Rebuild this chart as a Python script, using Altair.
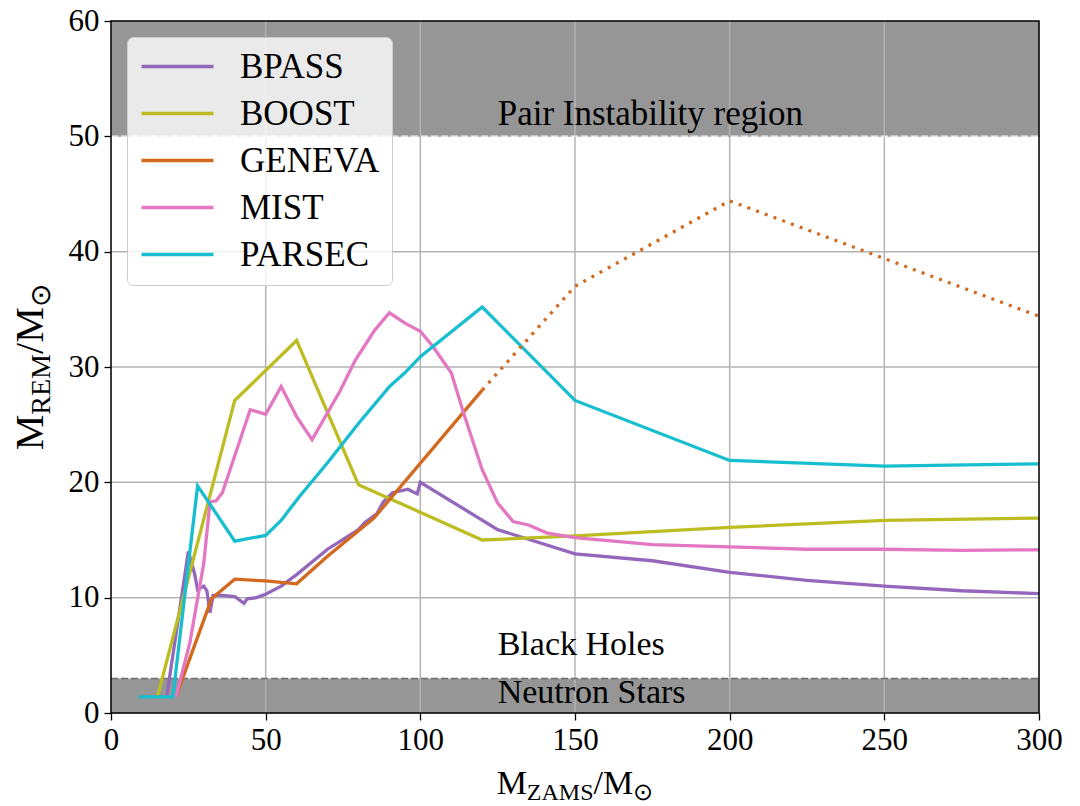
import altair as alt
import pandas as pd

# ---------------- data ----------------
names = ["BPASS", "BOOST", "GENEVA", "MIST", "PARSEC"]
colors = ["#9467bd", "#bcbd22", "#d2691e", "#e377c2", "#17becf"]

bpass_x = [18, 25, 27, 28, 30, 31, 32, 33, 36, 40, 43, 44, 47, 50, 55, 60, 70, 80, 82, 86, 88, 91, 96, 99, 100,
           125, 150, 175, 200, 225, 250, 275, 300]
bpass_y = [1.4, 14.0, 12.1, 10.7, 11.0, 10.6, 8.7, 10.2, 10.2, 10.1, 9.5, 9.9, 10.0, 10.3, 11.0, 12.0, 14.2, 15.9,
           16.5, 17.3, 18.3, 19.1, 19.4, 19.0, 20.0, 15.9, 13.8, 13.2, 12.2, 11.5, 11.0, 10.6, 10.35]

boost_x = [15, 40, 60, 80, 120, 150, 200, 250, 300]
boost_y = [1.4, 27.1, 32.3, 19.8, 15.0, 15.35, 16.1, 16.7, 16.9]

geneva_x = [21, 24.5, 32.5, 40, 50, 60, 70, 85, 120]
geneva_y = [1.4, 4.0, 9.9, 11.6, 11.45, 11.2, 13.6, 16.9, 28.0]
geneva_ext_x = [120, 150, 200, 250, 300]
geneva_ext_y = [28.0, 37.0, 44.4, 39.4, 34.4]

mist_x = [21, 25.5, 30, 32, 34, 36, 45, 50, 55, 60, 65, 74, 79, 85, 90, 95, 100, 104, 110, 114, 120, 125, 130,
          135, 141, 150, 175, 200, 225, 250, 275, 300]
mist_y = [1.4, 6.1, 13.0, 18.3, 18.4, 19.1, 26.3, 25.9, 28.3, 25.7, 23.7, 27.9, 30.6, 33.1, 34.7, 33.8, 33.1,
          31.8, 29.5, 26.0, 21.1, 18.2, 16.6, 16.3, 15.6, 15.2, 14.6, 14.4, 14.2, 14.2, 14.1, 14.15]

parsec_x = [9, 20, 28, 40, 50, 55, 61, 70, 80, 90, 95, 100, 120, 150, 200, 250, 300]
parsec_y = [1.4, 1.4, 19.7, 14.9, 15.4, 16.7, 18.8, 21.7, 25.1, 28.3, 29.5, 30.9, 35.2, 27.1, 21.9, 21.4, 21.6]

x_ticks = [0, 50, 100, 150, 200, 250, 300]
y_ticks = [0, 10, 20, 30, 40, 50, 60]

bands_lo = [0, 50]
bands_hi = [3, 60]
boundaries = [3, 50]
boundary_colors = ["#6e6e6e", "#e8e8e8"]

annotations = ["Pair Instability region", "Black Holes", "Neutron Stars"]
annot_x = [125, 125, 125]
annot_y = [51, 5, 0.9]
annot_size = [35, 34, 34]

# ---------------- layout ----------------
W, H = 928, 692
FONT = "Liberation Serif"
TICK_FS = 31

series = {
    "BPASS": (bpass_x, bpass_y),
    "BOOST": (boost_x, boost_y),
    "GENEVA": (geneva_x, geneva_y),
    "MIST": (mist_x, mist_y),
    "PARSEC": (parsec_x, parsec_y),
}
rows = []
for n in names:
    xs, ys = series[n]
    for i, (a, b) in enumerate(zip(xs, ys)):
        rows.append({"model": n, "m": a, "r": b, "i": i})
lines_df = pd.DataFrame(rows)
ext_df = pd.DataFrame({"model": "GENEVA", "m": geneva_ext_x, "r": geneva_ext_y})

xscale = alt.Scale(domain=[0, 300], nice=False, zero=False)
yscale = alt.Scale(domain=[0, 60], nice=False, zero=False)
cscale = alt.Scale(domain=names, range=colors)

xaxis = alt.Axis(values=x_ticks, grid=False, domain=False, tickColor="black", tickSize=7, tickWidth=1.3,
                 labelFont=FONT, labelFontSize=TICK_FS, labelColor="black", labelPadding=5, title=None,
                 labelFlush=False)
yaxis = alt.Axis(values=y_ticks, grid=False, domain=False, tickColor="black", tickSize=7, tickWidth=1.3,
                 labelFont=FONT, labelFontSize=TICK_FS, labelColor="black", labelPadding=5, title=None,
                 labelFlush=False)

bands = alt.Chart(pd.DataFrame({"lo": bands_lo, "hi": bands_hi})).mark_rect(color="#969696").encode(
    x=alt.datum(0, scale=xscale, axis=xaxis), x2=alt.datum(300),
    y=alt.Y("lo:Q", scale=yscale, axis=yaxis), y2="hi:Q")

gridx = alt.Chart(pd.DataFrame({"v": x_ticks[1:-1]})).mark_rule(color="#b3b3b3", strokeWidth=1.5).encode(
    x=alt.X("v:Q", scale=xscale), y=alt.value(0), y2=alt.value(H))
gridy = alt.Chart(pd.DataFrame({"v": y_ticks[1:-1]})).mark_rule(color="#b3b3b3", strokeWidth=1.5).encode(
    y=alt.Y("v:Q", scale=yscale), x=alt.value(0), x2=alt.value(W))

bnd = alt.Chart(pd.DataFrame({"v": boundaries, "c": boundary_colors})).mark_rule(
    strokeWidth=1.5, strokeDash=[7, 3]).encode(
    y=alt.Y("v:Q", scale=yscale), x=alt.value(0), x2=alt.value(W), color=alt.Color("c:N", scale=None))

lines = alt.Chart(lines_df).mark_line(strokeWidth=3.3).encode(
    x=alt.X("m:Q", scale=xscale),
    y=alt.Y("r:Q", scale=yscale),
    order="i:Q",
    color=alt.Color("model:N", scale=cscale, sort=names,
                    legend=alt.Legend(title=None, orient="none", legendX=16, legendY=16,
                                      symbolType="M-1,0H3.8", symbolSize=900, symbolStrokeWidth=3.3,
                                      labelFont=FONT, labelFontSize=35, labelColor="black",
                                      labelOffset=66, rowPadding=11, padding=12,
                                      fillColor="rgba(255,255,255,0.8)", strokeColor="#cccccc",
                                      cornerRadius=6)),
)

ext = alt.Chart(ext_df).mark_line(strokeWidth=3.3, strokeDash=[3, 6.3], color="#d2691e").encode(
    x=alt.X("m:Q", scale=xscale), y=alt.Y("r:Q", scale=yscale))

annot = alt.Chart(pd.DataFrame({"t": annotations, "x": annot_x, "y": annot_y, "s": annot_size})).mark_text(
    font=FONT, align="left", baseline="alphabetic", color="black").encode(
    x=alt.X("x:Q", scale=xscale), y=alt.Y("y:Q", scale=yscale), text="t:N",
    size=alt.Size("s:Q", scale=None, legend=None))

frame = alt.Chart(pd.DataFrame({"a": [0]})).mark_rect(fill=None, stroke="black", strokeWidth=1.5).encode(
    x=alt.value(0), x2=alt.value(W), y=alt.value(0), y2=alt.value(H))

# axis titles composed of pieces (main text + subscripts)
WID = {"M": 0.889, "R": 0.667, "E": 0.611, "Z": 0.611, "A": 0.722, "S": 0.556, "/": 0.278, "⊙": 0.84}


def twidth(s, fs):
    return sum(WID.get(ch, 0.5) for ch in s) * fs


def title_pieces(pieces, big, small, horizontal, center, base, shift_sub):
    total = sum(twidth(s, big if b else small) for s, b in pieces)
    layers = []
    pos = center - total / 2 if horizontal else center + total / 2
    for s, b in pieces:
        fs = big if b else small
        shift = 0 if b else shift_sub
        if horizontal:
            lay = alt.Chart(pd.DataFrame({"t": [s]})).mark_text(
                font=FONT, fontSize=fs, align="left", baseline="alphabetic", color="black").encode(
                x=alt.value(pos), y=alt.value(base + shift), text="t:N")
            pos += twidth(s, fs)
        else:
            lay = alt.Chart(pd.DataFrame({"t": [s]})).mark_text(
                font=FONT, fontSize=fs, align="left", baseline="alphabetic", angle=270, color="black").encode(
                x=alt.value(base + shift), y=alt.value(pos), text="t:N")
            pos -= twidth(s, fs)
        layers.append(lay)
    return layers


xt = title_pieces([("M", True), ("ZAMS", False), ("/M", True), ("⊙", False)], 34, 24, True, W / 2, 773, 6)
yt = title_pieces([("M", True), ("REM", False), ("/M", True), ("⊙", False)], 40, 28, False, H / 2, -68, 7)

chart = alt.layer(bands, gridx, gridy, bnd, lines, ext, annot, frame, *xt, *yt).properties(
    width=W, height=H,
    autosize=alt.AutoSizeParams(type="none"),
    padding={"left": 111, "top": 21, "right": 41, "bottom": 93},
).configure_view(stroke=None).configure(background="white")

chart.save("out.html", embed_options={"renderer": "svg", "actions": False})
